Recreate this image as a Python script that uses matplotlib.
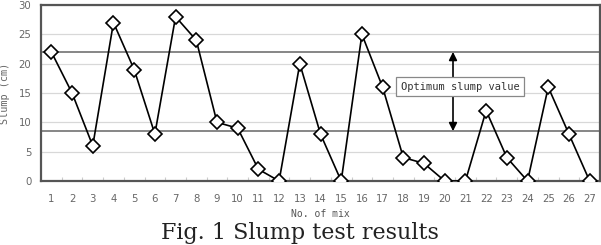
import matplotlib
matplotlib.use("Agg")
import matplotlib.pyplot as plt
import numpy as np

mix = list(range(1, 28))
slump = [22, 15, 6, 27, 19, 8, 28, 24, 10, 9, 2, 0, 20, 8, 0, 25, 16, 4, 3, 0,
         0, 12, 4, 0, 16, 8, 0]
upper_limit = 22
lower_limit = 8.5
yticks = [0, 5, 10, 15, 20, 25, 30]

W, H = 601, 245
fig = plt.figure(figsize=(W / 100, H / 100), dpi=100)
ax = fig.add_axes([41 / W, (H - 181) / H, (600 - 41) / W, (181 - 5) / H])

ax.set_xlim(0.5, 27.5)
ax.set_ylim(0, 30)
ax.set_yticks(yticks)
ax.set_xticks(mix)
ax.set_xticks(np.arange(1.5, 27, 1), minor=True)
ax.yaxis.grid(True, color="#d8d8d8", linewidth=0.9)
ax.set_axisbelow(True)

for y in (upper_limit, lower_limit):
    ax.axhline(y, color="#666666", linewidth=1.1, zorder=1)

ax.plot(mix, slump, color="black", linewidth=1.2, marker="D", markersize=7.3,
        markerfacecolor="white", markeredgecolor="black", markeredgewidth=1.2,
        zorder=4)

for s in ax.spines.values():
    s.set_color("#555555")
    s.set_linewidth(1.6)

ax.tick_params(axis="both", which="major", length=0, labelsize=7.3,
               labelcolor="#666666")
ax.tick_params(axis="x", which="major", pad=9)
ax.tick_params(axis="y", which="major", pad=7)
ax.tick_params(axis="x", which="minor", direction="in", length=3,
               color="#cccccc", width=0.8)

ax.set_xlabel("No. of mix", fontsize=7, color="#555555",
              family="DejaVu Sans Mono", labelpad=4)
ax.set_ylabel("Slump (cm)", fontsize=7.3, color="#666666",
              family="DejaVu Sans Mono", labelpad=6)

xa = 20.4
ax.annotate("", xy=(xa, upper_limit), xytext=(xa, lower_limit),
            arrowprops=dict(arrowstyle="<|-|>", color="black", lw=1.2,
                            mutation_scale=12, shrinkA=0, shrinkB=0),
            zorder=3)
ax.text(20.75, 16.1, "Optimum slump value", fontsize=7.5, family="DejaVu Sans Mono",
        color="#333333", ha="center", va="center", zorder=5,
        bbox=dict(boxstyle="square,pad=0.45", facecolor="white",
                  edgecolor="#888888", linewidth=0.9))

fig.text(300 / W, 1 - 222 / H, "Fig. 1 Slump test results", fontsize=16,
         family="DejaVu Serif", color="#222222", ha="center", va="top")

fig.savefig("out.png", dpi=100)
